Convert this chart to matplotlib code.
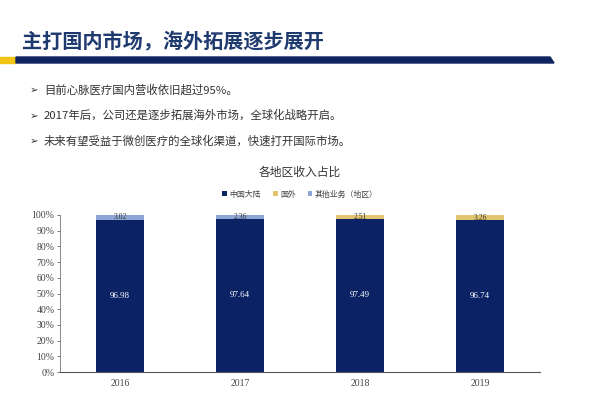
import numpy as np
import matplotlib
matplotlib.use('Agg')
import matplotlib.pyplot as plt
from matplotlib.patches import Rectangle, Polygon
from matplotlib.ticker import FuncFormatter

plt.rcParams['font.family'] = ['Noto Sans CJK SC', 'DejaVu Sans']

years = ['2016', '2017', '2018', '2019']
mainland = [96.98, 97.64, 97.49, 96.74]
overseas = [0, 0, 2.51, 3.26]
other = [3.02, 2.36, 0, 0]
series_names = ['中国大陆', '国外', '其他业务（地区）']

title = '主打国内市场，海外拓展逐步展开'
bullets = ['目前心脉医疗国内营收依旧超过95%。',
           '2017年后，公司还是逐步拓展海外市场，全球化战略开启。',
           '未来有望受益于微创医疗的全球化渠道，快速打开国际市场。']
chart_title = '各地区收入占比'

NAVY = '#0b2265'
GOLD = '#e2c46e'
LIGHT = '#8ea6d6'

fig = plt.figure(figsize=(6, 4.03), dpi=100)
W, H = 600, 403


def fx(px):
    return px / W


def fy(py):
    return 1 - py / H


# header
fig.text(fx(22), fy(42), title, fontsize=14.5, fontweight='bold', color='#1f3a6e',
         va='center', ha='left')
fig.patches.append(Rectangle((0, fy(63)), fx(15), fy(57) - fy(63), transform=fig.transFigure,
                             color='#f2c314', zorder=3))
fig.patches.append(Polygon([(fx(16), fy(57)), (fx(550), fy(57)), (fx(554), fy(63)), (fx(16), fy(63))],
                           closed=True, transform=fig.transFigure, color='#0e2461', zorder=3))

for i, b in enumerate(bullets):
    y = fy(90 + i * 25.5)
    fig.text(fx(30), y, '➢', fontsize=7.5, color='#333333', va='center',
             family=['DejaVu Sans'])
    fig.text(fx(44), y, b, fontsize=8.2, color='#333333', va='center')

fig.text(0.5, fy(172), chart_title, fontsize=8.5, color='#333333', ha='center', va='center')

ax = fig.add_axes([0.1, 31 / H, 0.8, 157 / H])
x = np.arange(len(years))
w = 0.4
b1 = ax.bar(x, mainland, w, color=NAVY, label=series_names[0])
b2 = ax.bar(x, overseas, w, bottom=mainland, color=GOLD, label=series_names[1])
b3 = ax.bar(x, other, w, bottom=mainland, color=LIGHT, label=series_names[2])

for i in range(len(years)):
    ax.text(x[i], mainland[i] / 2, f'{mainland[i]:.2f}', ha='center', va='center',
            color='white', fontsize=6.5, family=['Liberation Serif'])
    top = overseas[i] if overseas[i] else other[i]
    ax.text(x[i], mainland[i] + top / 2, f'{top:.2f}', ha='center', va='center',
            color='#333333', fontsize=5.5, family=['Liberation Serif'])

ax.set_xlim(-0.5, len(years) - 0.5)
ax.set_ylim(0, 100)
ax.set_yticks(np.arange(0, 101, 10))
ax.yaxis.set_major_formatter(FuncFormatter(lambda v, p: f'{v:.0f}%'))
ax.set_xticks(x)
ax.set_xticklabels(years)
for lab in ax.get_xticklabels() + ax.get_yticklabels():
    lab.set_family(['Liberation Serif'])
    lab.set_fontsize(7)
    lab.set_color('#444444')
ax.tick_params(axis='x', length=0, pad=5)
ax.tick_params(axis='y', length=2, width=0.6, colors='#666666', labelcolor='#444444', pad=2)
ax.spines['top'].set_visible(False)
ax.spines['right'].set_visible(False)
ax.spines['left'].set_color('#888888')
ax.spines['bottom'].set_color('#555555')
ax.spines['left'].set_linewidth(0.7)
ax.spines['bottom'].set_linewidth(0.8)

fig.legend(handles=[b1, b2, b3], labels=series_names, loc='center', bbox_to_anchor=(0.5, fy(194)),
           ncol=3, frameon=False, fontsize=5.7, handlelength=0.6, handleheight=0.6,
           handletextpad=0.3, columnspacing=1.5, labelcolor='#444444')

fig.savefig('out.png', dpi=100)
